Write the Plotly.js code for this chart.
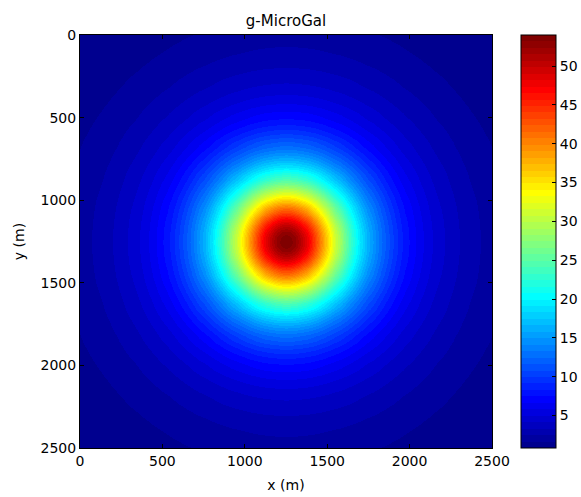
<!DOCTYPE html>
<html>
<head>
<meta charset="utf-8">
<script src="https://cdn.plot.ly/plotly-3.0.1.min.js"></script>
<style>html,body{margin:0;padding:0;background:#fff;}#chart{width:581px;height:497px;}</style>
</head>
<body>
<div id="chart"></div>
<script>
// Radial profile of the anomaly (distance from centre in m -> g in microGal)
var profileR = [0, 50, 100, 150, 200, 250, 300, 350, 400, 450, 500, 550, 600, 650, 700, 750, 800, 850, 900, 950, 1000, 1100, 1200, 1300, 1400, 1500, 1600, 1700, 1800];
var profileG = [54.0, 53.0, 50.2, 46.1, 41.2, 36.1, 31.1, 26.6, 22.5, 19.1, 16.2, 13.7, 11.7, 10.0, 8.5, 7.35, 6.36, 5.53, 4.83, 4.24, 3.73, 2.93, 2.34, 1.89, 1.55, 1.28, 1.07, 0.90, 0.77];
var centreX = 1250, centreY = 1250;
var gridX = [], gridY = [];
for (var v = 0; v <= 2500; v += 25) { gridX.push(v); gridY.push(v); }
var colorTicks = [5, 10, 15, 20, 25, 30, 35, 40, 45, 50];
var axisTicks = [0, 500, 1000, 1500, 2000, 2500];

function lookup(r) {
  for (var k = 0; k < profileR.length - 1; k++) {
    if (r <= profileR[k + 1]) {
      var t = (r - profileR[k]) / (profileR[k + 1] - profileR[k]);
      return profileG[k] + t * (profileG[k + 1] - profileG[k]);
    }
  }
  return profileG[profileG.length - 1];
}
var z = gridY.map(function (y) {
  return gridX.map(function (x) {
    return lookup(Math.sqrt((x - centreX) * (x - centreX) + (y - centreY) * (y - centreY)));
  });
});

// MATLAB jet(64), stepped
function jet64() {
  var n = 16, u = [];
  for (var i = 1; i <= n; i++) u.push(i / n);
  for (i = 0; i < n - 1; i++) u.push(1);
  for (i = n; i >= 1; i--) u.push(i / n);
  var cols = [];
  for (var k = 1; k <= 64; k++) {
    var r = (k >= 25) ? u[k - 25] : 0;
    var g = (k >= 9 && k <= 55) ? u[k - 9] : 0;
    var b = (k <= 39) ? u[k + 7] : 0;
    if (r === undefined) r = 0;
    cols.push('rgb(' + Math.round(r * 255) + ',' + Math.round(g * 255) + ',' + Math.round(b * 255) + ')');
  }
  var cs = [];
  for (k = 0; k < 64; k++) {
    cs.push([k / 64, cols[k]]);
    cs.push([(k + 1) / 64, cols[k]]);
  }
  return cs;
}
var zmin = Infinity, zmax = -Infinity;
z.forEach(function (row) { row.forEach(function (v) { if (v < zmin) zmin = v; if (v > zmax) zmax = v; }); });

var fam = 'DejaVu Sans, Liberation Sans, Arial, sans-serif';
var font = {family: fam, size: 14, color: '#000'};
var trace = {
  type: 'heatmap', x: gridX, y: gridY, z: z,
  colorscale: jet64(), zmin: zmin, zmax: zmax, zsmooth: 'best',
  hoverinfo: 'skip',
  colorbar: {
    x: 441 / 499, xanchor: 'left', xref: 'paper', y: 0.5, yanchor: 'middle', len: 1, lenmode: 'fraction',
    thickness: 35, thicknessmode: 'pixels', outlinewidth: 1, outlinecolor: '#000',
    tickvals: colorTicks, ticks: 'inside', ticklen: 4, tickcolor: '#000',
    tickfont: font, xpad: 0, ypad: 0
  }
};
var axBase = {
  showgrid: false, zeroline: false, showline: true, linecolor: '#000', linewidth: 1, mirror: 'ticks',
  ticks: 'inside', ticklen: 4, tickcolor: '#000', tickvals: axisTicks, tickfont: font
};
var layout = {
  width: 581, height: 497,
  margin: {l: 80, r: 2, t: 35, b: 49, autoexpand: false},
  paper_bgcolor: '#fff', plot_bgcolor: '#fff',
  font: font,
  title: {text: 'g-MicroGal', font: {family: fam, size: 15, color: '#000'}, xref: 'paper', x: 206 / 499, xanchor: 'center', y: 0.969, yanchor: 'top'},
  xaxis: Object.assign({}, axBase, {domain: [0, 412 / 499], range: [0, 2500], title: {text: 'x (m)', font: font, standoff: 12}}),
  yaxis: Object.assign({}, axBase, {range: [2500, 0], title: {text: 'y (m)', font: font, standoff: 12}})
};
Plotly.newPlot('chart', [trace], layout, {displayModeBar: false, staticPlot: true});
</script>
</body>
</html>
